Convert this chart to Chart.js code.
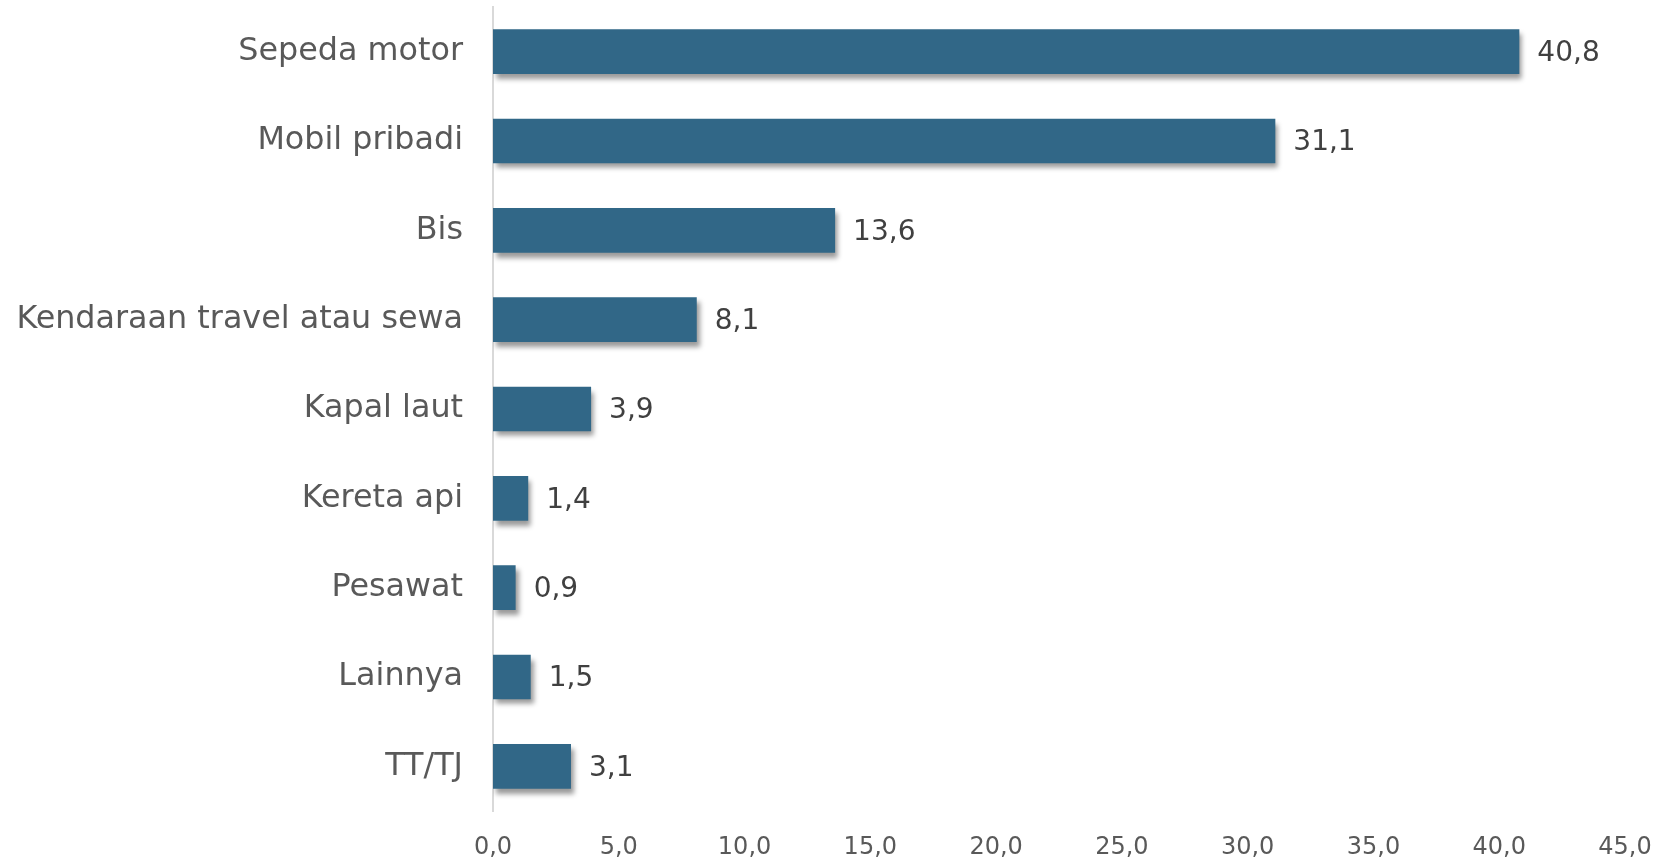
<!DOCTYPE html>
<html>
<head>
<meta charset="utf-8">
<script src="https://cdn.jsdelivr.net/npm/chart.js@4"></script>
<style>
html,body{margin:0;padding:0;background:#fff;}
#wrap{width:1655px;height:862px;position:relative;}
</style>
</head>
<body>
<div id="wrap"><canvas id="c" width="1655" height="862"></canvas></div>
<script>
const categories = ["Sepeda motor","Mobil pribadi","Bis","Kendaraan travel atau sewa","Kapal laut","Kereta api","Pesawat","Lainnya","TT/TJ"];
const values = [40.8,31.1,13.6,8.1,3.9,1.4,0.9,1.5,3.1];
const xTicks = [0,5,10,15,20,25,30,35,40,45];

const FONT = "'DejaVu Sans', sans-serif";
const fmt = v => v.toFixed(1).replace('.', ',');

const shadowPlugin = {
  id: 'barShadow',
  beforeDatasetsDraw(chart){
    const ctx = chart.ctx;
    ctx.save();
    ctx.shadowColor = 'rgba(0,0,0,0.4)';
    ctx.shadowBlur = 5;
    ctx.shadowOffsetX = 3;
    ctx.shadowOffsetY = 5;
  },
  afterDatasetsDraw(chart){
    chart.ctx.restore();
  }
};

const labelPlugin = {
  id: 'valueLabels',
  afterDraw(chart){
    const ctx = chart.ctx;
    const meta = chart.getDatasetMeta(0);
    ctx.save();
    ctx.font = "28px " + FONT;
    ctx.fillStyle = '#404040';
    ctx.textAlign = 'left';
    ctx.textBaseline = 'middle';
    meta.data.forEach((bar, i) => {
      ctx.fillText(fmt(values[i]), bar.x + 18, bar.y + 2);
    });
    ctx.restore();
  }
};

new Chart(document.getElementById('c'), {
  type: 'bar',
  data: {
    labels: categories,
    datasets: [{
      data: values,
      backgroundColor: '#316787',
      borderWidth: 0,
      categoryPercentage: 0.5,
      barPercentage: 1.0
    }]
  },
  options: {
    indexAxis: 'y',
    responsive: false,
    animation: false,
    devicePixelRatio: 1,
    layout: { padding: { top: 7, right: 0, left: 0, bottom: 0 } },
    plugins: { legend: { display: false }, tooltip: { enabled: false } },
    scales: {
      x: {
        min: 0, max: 45,
        afterBuildTicks(axis){ axis.ticks = xTicks.map(v => ({value: v})); },
        afterFit(axis){ axis.height = 51; axis.paddingRight = 30; },
        grid: { display: false, drawTicks: false },
        border: { display: false },
        ticks: {
          font: { family: FONT, size: 24 },
          color: '#595959',
          padding: 22,
          maxRotation: 0,
          callback: v => fmt(v)
        }
      },
      y: {
        grid: { display: false, drawTicks: false },
        border: { display: true, color: '#d9d9d9', width: 2 },
        afterFit(axis){ axis.width = 493; axis.paddingTop = 0; axis.paddingBottom = 0; },
        ticks: {
          font: { family: FONT, size: 31.8 },
          color: '#595959',
          padding: 30
        }
      }
    }
  },
  plugins: [shadowPlugin, labelPlugin]
});
</script>
</body>
</html>
